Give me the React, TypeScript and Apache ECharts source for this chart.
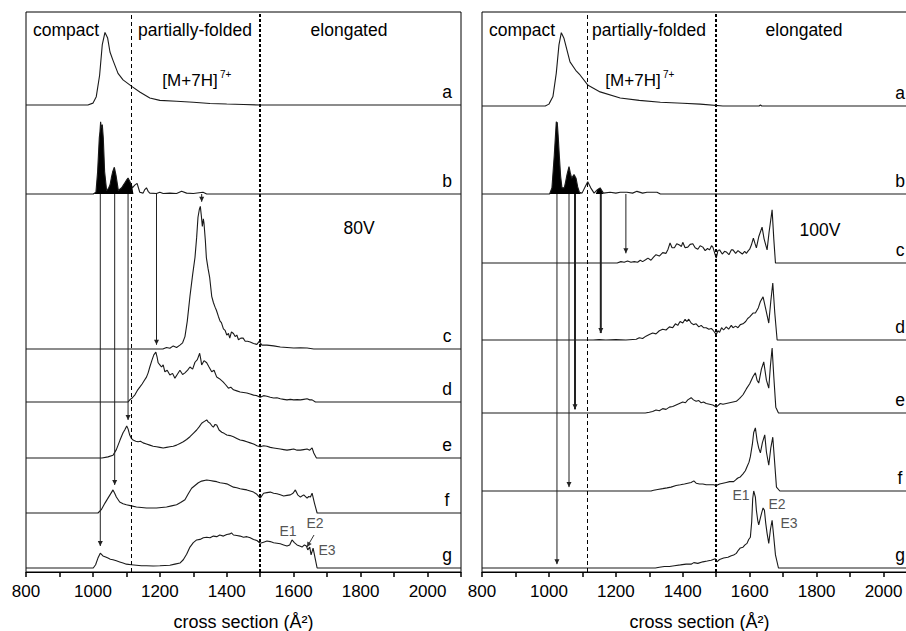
import React, { useEffect, useRef } from 'react';
import * as echarts from 'echarts';

// ---------------- DATA ----------------
const traceNames = ['a', 'b', 'c', 'd', 'e', 'f', 'g'];
const regionBounds = [1115, 1500];
const xMin = 800;
const xMax = 2100;
const xStep = 100;
const xLabelStep = 200;
const axisTitle = 'cross section (Å²)';
const regionNames = ['compact', 'partially-folded', 'elongated'];
const ionLabel = '[M+7H]';
const ionCharge = '7+';
const voltageLabels = ['80V', '100V'];
const peakNames = ['E1', 'E2', 'E3'];

// left panel (80V), intensity in % of each trace's row height
const leftA = [[800,0],[985,0],[1000,2],[1010,9],[1020,32],[1028,65],[1036,78],[1044,72],[1051,57],[1060,48],[1075,34],[1090,27],[1105,23],[1116,20],[1140,14],[1170,7.5],[1200,5],[1250,4],[1300,3],[1350,1.6],[1400,1],[1450,0.5],[1500,0],[2100,0]];
const leftB = [[800,0],[1001,0],[1009,2],[1014,25],[1019,63],[1021,70],[1023,81],[1025,74],[1028,78],[1031,63],[1035,25],[1041,4],[1046,6],[1051,10],[1055,18],[1059,25],[1064,30],[1069,21],[1076,4],[1086,7],[1091,10],[1096,13],[1101,16],[1105,18],[1112,13],[1118,7],[1125,10],[1132,12],[1140,2],[1150,1],[1155,5],[1160,7],[1165,3],[1170,1],[1190,0.5],[1200,2],[1210,0.5],[1230,1],[1250,0.5],[1265,3],[1280,1],[1300,0.5],[1329,2],[1340,0],[2100,0]];
const leftBFill = [[1001,0],[1009,2],[1014,25],[1019,63],[1021,70],[1023,81],[1025,74],[1028,78],[1031,63],[1035,25],[1041,4],[1046,6],[1051,10],[1055,18],[1059,25],[1064,30],[1069,21],[1076,4],[1086,7],[1091,10],[1096,13],[1101,16],[1105,18],[1112,13],[1118,7],[1121,0]];
const leftC = [[800,0],[1209,0],[1220,1],[1230,0.5],[1240,2],[1250,1],[1260,2.5],[1268,4],[1275,8],[1282,18],[1290,34],[1298,48],[1305,59],[1310,72],[1314,85],[1318,90],[1321,92],[1324,86],[1327,79],[1330,84],[1332,81],[1336,70],[1339,59],[1344,52],[1349,46],[1352,40],[1355,34],[1360,30],[1365,27],[1369,25],[1375,21],[1380,18],[1384,17],[1390,13],[1395,12],[1400,9],[1405,10],[1409,7],[1414,11],[1420,10],[1425,8],[1430,9],[1435,6],[1442,7],[1449,7],[1455,5],[1462,5],[1470,4.5],[1480,3.5],[1490,3],[1497,5],[1500,4],[1505,2.5],[1520,2.5],[1540,2],[1560,1.3],[1580,1],[1600,0.6],[1620,0.8],[1640,0.6],[1660,0],[2100,0]];
const leftD = [[800,0],[1105,0],[1110,4],[1118,8],[1126,14],[1134,23],[1140,28],[1147,34],[1153,40],[1160,47],[1165,55],[1170,66],[1176,78],[1182,89],[1188,94],[1192,84],[1195,74],[1200,70],[1205,66],[1210,70],[1215,57],[1222,60],[1230,51],[1238,54],[1245,45],[1252,52],[1260,60],[1268,52],[1275,55],[1283,60],[1290,66],[1298,62],[1305,75],[1312,80],[1319,92],[1322,82],[1325,70],[1332,78],[1340,74],[1347,66],[1355,57],[1362,60],[1370,47],[1378,44],[1389,38],[1396,33],[1405,26],[1412,28],[1420,23],[1430,21],[1440,19],[1450,18],[1460,17],[1470,15],[1480,13],[1490,12],[1500,9],[1510,12],[1520,11],[1530,9],[1540,7.5],[1550,8],[1560,6],[1570,5],[1580,4],[1590,5],[1600,4],[1610,4.5],[1620,4],[1630,5],[1640,6],[1648,4],[1655,4],[1665,0],[2100,0]];
const leftE = [[800,0],[1027,0],[1045,2],[1060,5],[1070,15],[1081,32],[1090,45],[1095,50],[1101,57],[1105,52],[1110,41],[1115,35],[1120,32],[1128,30],[1135,29],[1142,30],[1150,27],[1160,25],[1170,23],[1180,21],[1190,20],[1200,19],[1210,18],[1220,19],[1230,20],[1240,21],[1250,23],[1260,26],[1270,29],[1280,33],[1290,38],[1300,44],[1310,50],[1318,56],[1325,62],[1332,65],[1340,68],[1345,64],[1350,62],[1355,58],[1360,55],[1365,60],[1370,59],[1377,50],[1385,46],[1392,44],[1400,41],[1410,40],[1420,38],[1430,35],[1440,32],[1450,31],[1460,29],[1470,27],[1480,25],[1490,22],[1500,20],[1510,22],[1520,21],[1530,19],[1540,18],[1550,17],[1560,16],[1570,15],[1580,14],[1590,15],[1600,16],[1610,14],[1620,14],[1630,15],[1640,16],[1648,14],[1655,18],[1660,9],[1668,0],[2100,0]];
const leftF = [[800,0],[1015,0],[1025,6],[1036,18],[1045,27],[1051,33],[1056,38],[1060,42],[1065,36],[1070,29],[1080,20],[1090,17],[1100,15],[1115,13],[1130,11],[1145,10],[1160,9],[1175,9],[1190,9],[1205,10],[1220,11],[1235,13],[1250,15],[1262,19],[1275,24],[1285,35],[1295,45],[1305,50],[1315,55],[1325,58],[1340,60],[1350,59],[1360,58],[1370,57],[1380,55],[1390,54],[1400,53],[1410,50],[1420,47],[1430,46],[1440,44],[1450,43],[1460,42],[1470,40],[1480,38],[1490,34],[1500,27],[1510,36],[1520,37],[1530,38],[1540,36],[1550,35],[1560,33],[1570,31],[1580,32],[1590,33],[1598,36],[1605,42],[1612,33],[1620,29],[1630,33],[1640,27],[1645,30],[1650,29],[1655,36],[1662,18],[1670,0],[2100,0]];
const leftG = [[800,0],[1001,0],[1008,6],[1015,18],[1022,27],[1030,22],[1038,20],[1045,18],[1052,16],[1060,15],[1070,13],[1080,11],[1090,9],[1100,7],[1115,6],[1130,5],[1145,4],[1160,4],[1180,3.5],[1200,4],[1215,4.5],[1230,5],[1245,7],[1260,9],[1270,15],[1280,25],[1290,38],[1300,46],[1310,51],[1320,52],[1330,55],[1340,56],[1350,55],[1360,58],[1370,57],[1379,60],[1390,58],[1400,61],[1410,62],[1414,64],[1420,60],[1430,59],[1440,58],[1450,56],[1460,57],[1470,55],[1480,52],[1490,50],[1500,45],[1510,47],[1520,49],[1530,48],[1540,46],[1550,45],[1560,44],[1570,42],[1580,40],[1588,42],[1595,51],[1602,46],[1610,42],[1618,40],[1625,38],[1632,42],[1638,40],[1642,33],[1648,38],[1652,24],[1658,36],[1664,18],[1670,0],[2100,0]];

// right panel (100V)
const rightA = [[800,0],[989,0],[1000,2],[1012,10],[1022,35],[1030,65],[1037,78],[1045,72],[1063,47],[1080,38],[1093,33],[1117,22],[1153,15],[1213,8.5],[1270,6],[1333,4],[1400,3],[1452,2],[1520,0],[1628,0],[1632,1],[1636,0],[2100,0]];
const rightB = [[800,0],[1002,0],[1009,7],[1016,44],[1022,82],[1025,81],[1028,64],[1031,44],[1035,20],[1039,7],[1046,7],[1050,14],[1054,22],[1060,31],[1064,24],[1068,18],[1075,22],[1081,18],[1086,8],[1091,2],[1099,1],[1108,8],[1116,14],[1125,7],[1135,1],[1145,5],[1153,7],[1158,4],[1163,1],[1183,2],[1200,1],[1213,2],[1233,2],[1250,1],[1263,3],[1280,1],[1293,2],[1323,2],[1333,0],[2100,0]];
const rightBFill = [[1002,0],[1009,7],[1016,44],[1022,82],[1025,81],[1028,64],[1031,44],[1035,20],[1039,7],[1046,7],[1050,14],[1054,22],[1060,31],[1064,24],[1068,18],[1075,22],[1081,18],[1086,8],[1091,2],[1096,0],[1140,0],[1145,5],[1153,7],[1158,4],[1163,0]];
const rightC = [[800,0],[1204,0],[1215,2],[1225,1],[1235,3],[1245,1],[1255,2],[1265,1],[1273,4],[1280,2],[1290,5],[1296,7],[1305,4],[1312,8],[1320,12],[1330,10],[1340,15],[1350,14],[1356,20],[1362,29],[1368,22],[1375,22],[1382,28],[1390,26],[1396,24],[1400,30],[1407,22],[1415,23],[1422,27],[1430,28],[1437,22],[1445,20],[1452,25],[1460,23],[1467,18],[1474,21],[1480,19],[1486,25],[1490,23],[1495,15],[1500,7],[1505,18],[1510,19],[1518,13],[1525,17],[1530,16],[1538,12],[1545,19],[1550,19],[1558,14],[1565,18],[1570,16],[1578,13],[1585,17],[1590,14],[1596,18],[1600,20],[1605,26],[1611,36],[1616,28],[1620,22],[1627,38],[1632,45],[1637,52],[1643,35],[1652,19],[1658,45],[1667,77],[1672,35],[1677,0],[2100,0]];
const rightD = [[800,0],[1132,0],[1150,0.5],[1170,0],[1200,0.5],[1230,0],[1261,1],[1270,3],[1280,2],[1290,5],[1300,7],[1310,9],[1320,8],[1330,12],[1340,14],[1350,13],[1360,17],[1370,16],[1378,21],[1385,19],[1392,24],[1400,22],[1407,27],[1412,24],[1418,27],[1425,22],[1432,20],[1440,21],[1448,17],[1455,19],[1462,16],[1470,16],[1478,14],[1485,15],[1490,13],[1495,10],[1500,7],[1505,12],[1510,10],[1516,16],[1522,13],[1530,17],[1537,14],[1545,19],[1550,16],[1558,18],[1565,16],[1572,20],[1580,21],[1588,24],[1594,28],[1600,30],[1610,35],[1617,35],[1626,42],[1632,50],[1640,56],[1648,40],[1657,22],[1663,50],[1669,74],[1675,35],[1682,0],[2100,0]];
const rightE = [[800,0],[1288,0],[1300,1],[1310,2],[1320,4],[1330,3],[1340,6],[1350,5],[1360,8],[1370,9],[1380,11],[1390,13],[1400,15],[1408,14],[1415,18],[1425,21],[1432,18],[1440,16],[1448,17],[1455,14],[1462,15],[1470,13],[1480,12],[1490,11],[1500,8],[1505,10],[1512,13],[1520,12],[1530,13],[1540,14],[1550,15],[1560,16],[1570,20],[1580,25],[1590,33],[1600,40],[1610,50],[1617,55],[1622,45],[1627,41],[1635,60],[1642,70],[1650,45],[1657,34],[1662,65],[1667,89],[1672,50],[1678,8],[1686,0],[2100,0]];
const rightF = [[800,0],[1305,0],[1313,1],[1325,2],[1340,3],[1353,4],[1365,5],[1380,7],[1393,8],[1405,9],[1415,10],[1425,11],[1433,13],[1440,10],[1450,9],[1460,9],[1470,8],[1480,8],[1492,8],[1500,7],[1510,9],[1520,10],[1530,11],[1540,12],[1552,12],[1560,15],[1566,17],[1572,18],[1580,22],[1587,26],[1592,31],[1598,37],[1602,44],[1608,60],[1612,75],[1617,81],[1622,65],[1627,55],[1632,49],[1638,62],[1645,72],[1650,50],[1657,33],[1663,55],[1669,69],[1674,40],[1680,5],[1690,0],[2100,0]];
const rightG = [[800,0],[1318,0],[1330,1],[1345,2],[1360,2],[1375,3],[1393,4],[1410,5],[1425,5],[1433,7],[1445,6],[1460,8],[1473,9],[1485,10],[1497,12],[1502,8],[1510,11],[1522,13],[1535,14],[1545,16],[1552,17],[1560,19],[1566,23],[1572,26],[1580,27],[1586,30],[1592,32],[1597,37],[1602,40],[1606,60],[1609,90],[1612,100],[1617,92],[1620,75],[1624,62],[1627,56],[1632,65],[1636,72],[1640,78],[1644,75],[1648,58],[1652,45],[1657,32],[1662,50],[1667,62],[1672,40],[1677,17],[1686,0],[2100,0]];

// arrows: [cross section, target trace index, tip intensity in target trace]
const leftArrows = [[1325, 2, 95], [1190, 3, 108], [1105, 4, 68], [1065, 5, 51], [1022, 6, 40]];
const rightArrows = [[1230, 2, 14], [1155, 3, 9], [1078, 4, 5], [1060, 5, 5], [1024, 6, 5]];

// ---------------- LAYOUT ----------------
const FONT = '"Liberation Sans", Arial, Helvetica, sans-serif';
const AXIS_TOP = 12;
const AXIS_BOTTOM = 572;
const PANELS = [
  {
    left: 26, width: 435,
    rows: [[12, 105], [105, 194], [194, 349], [349, 402], [402, 458], [458, 513], [513, 568]],
    letterX: 447,
    traces: [leftA, leftB, leftC, leftD, leftE, leftF, leftG],
    bFill: leftBFill,
    arrows: leftArrows,
    arrowWidths: [1, 1, 1, 1, 1],
    regionX: [66, 195, 349], regionY: 30,
    ion: { x: 190, y: 80, supX: 220, supY: 74 },
    volt: { x: 359, y: 228 },
    peaks: [{ x: 288, y: 531 }, { x: 315, y: 523 }, { x: 327, y: 550 }],
    e2Arrow: [[314, 535], [307, 547]],
  },
  {
    left: 482, width: 435,
    rows: [[12, 106], [106, 194], [194, 263], [263, 340], [340, 413], [413, 491], [491, 568]],
    letterX: 900,
    traces: [rightA, rightB, rightC, rightD, rightE, rightF, rightG],
    bFill: rightBFill,
    arrows: rightArrows,
    arrowWidths: [1, 2, 2, 1, 1],
    regionX: [522, 649, 804], regionY: 30,
    ion: { x: 633, y: 80, supX: 663, supY: 74 },
    volt: { x: 820, y: 230 },
    peaks: [{ x: 741, y: 495 }, { x: 777, y: 504 }, { x: 789, y: 523 }],
    e2Arrow: null,
  },
];

function buildOption() {
  const grid: any[] = [];
  const xAxis: any[] = [];
  const yAxis: any[] = [];
  const series: any[] = [];
  PANELS.forEach((p, pi) => {
    const base = pi * 8;
    grid.push({
      left: p.left, width: p.width, top: AXIS_TOP, height: AXIS_BOTTOM - AXIS_TOP,
      show: true, borderColor: '#000', borderWidth: 1, backgroundColor: 'transparent',
      containLabel: false, outerBoundsMode: 'none',
    });
    xAxis.push({
      gridIndex: base, type: 'value', min: xMin, max: xMax, interval: xStep,
      axisLine: { show: true, lineStyle: { color: '#000', width: 1 } },
      axisTick: { show: true, inside: false, length: 5, lineStyle: { color: '#000', width: 1.5 } },
      axisLabel: {
        show: true, margin: 11, color: '#000', fontSize: 17, fontFamily: FONT,
        formatter: (v: number) => (v % xLabelStep === 0 ? String(v) : ''),
        showMinLabel: true, showMaxLabel: true, hideOverlap: false,
      },
      splitLine: { show: false },
      name: axisTitle, nameLocation: 'middle', nameGap: 41,
      nameTextStyle: { color: '#000', fontSize: 18, fontFamily: FONT },
    });
    yAxis.push({ gridIndex: base, type: 'value', min: 0, max: 1, show: false });
    series.push({
      type: 'line', xAxisIndex: base, yAxisIndex: base, data: [[xMin, 0]], symbol: 'none',
      lineStyle: { width: 0 }, silent: true,
      markLine: {
        silent: true, symbol: ['none', 'none'], label: { show: false },
        data: regionBounds.map((v, i) => ({
          xAxis: v,
          lineStyle: i === 0
            ? { color: '#000', width: 1, type: [4, 3] }
            : { color: '#000', width: 2, type: [3, 2] },
        })),
      },
    });
    p.rows.forEach((r, ri) => {
      const gi = base + 1 + ri;
      grid.push({ left: p.left, width: p.width, top: r[0], height: r[1] - r[0], show: false, containLabel: false, outerBoundsMode: 'none' });
      xAxis.push({ gridIndex: gi, type: 'value', min: xMin, max: xMax, show: false });
      yAxis.push({ gridIndex: gi, type: 'value', min: 0, max: 100, show: false });
      if (ri === 1) {
        series.push({
          type: 'line', xAxisIndex: gi, yAxisIndex: gi, data: p.bFill, symbol: 'none', silent: true,
          clip: false, lineStyle: { width: 0 }, areaStyle: { color: '#000', opacity: 1 }, z: 2,
        });
      }
      series.push({
        type: 'line', name: traceNames[ri], xAxisIndex: gi, yAxisIndex: gi, data: p.traces[ri],
        symbol: 'none', silent: true, clip: false,
        lineStyle: { color: '#1a1a1a', width: 1.1 }, z: 3,
      });
    });
  });
  return {
    animation: false,
    backgroundColor: '#fff',
    textStyle: { fontFamily: FONT },
    grid, xAxis, yAxis, series,
  };
}

function arrowHead(x1: number, y1: number, x2: number, y2: number, size: number, color: string) {
  const dx = x2 - x1, dy = y2 - y1;
  const len = Math.sqrt(dx * dx + dy * dy) || 1;
  const ux = dx / len, uy = dy / len;
  const bx = x2 - ux * size, by = y2 - uy * size;
  const px = -uy * size * 0.5, py = ux * size * 0.5;
  return {
    type: 'polygon', silent: true, z: 10,
    shape: { points: [[x2, y2], [bx + px, by + py], [bx - px, by - py]] },
    style: { fill: color },
  };
}

function buildGraphics(chart: any) {
  const els: any[] = [];
  const txt = (text: string, x: number, y: number, size: number, color = '#000', align = 'center') => ({
    type: 'text', x, y, silent: true, z: 20,
    style: { text, fill: color, font: `${size}px ${FONT}`, align, verticalAlign: 'middle' },
  });
  PANELS.forEach((p, pi) => {
    const base = pi * 8;
    regionNames.forEach((n, i) => els.push(txt(n, p.regionX[i], p.regionY, 17.5)));
    els.push(txt(ionLabel, p.ion.x, p.ion.y, 17));
    els.push(txt(ionCharge, p.ion.supX, p.ion.supY, 10, '#000', 'left'));
    els.push(txt(voltageLabels[pi], p.volt.x, p.volt.y, 17.5));
    p.rows.forEach((r, ri) => els.push(txt(traceNames[ri], p.letterX, r[1] - 13, 17.5)));
    peakNames.forEach((n, i) => els.push(txt(n, p.peaks[i].x, p.peaks[i].y, 14, '#555')));
    if (p.e2Arrow) {
      const [[x1, y1], [x2, y2]] = p.e2Arrow;
      els.push({ type: 'line', silent: true, z: 10, shape: { x1, y1, x2, y2 }, style: { stroke: '#333', lineWidth: 1 } });
      els.push(arrowHead(x1, y1, x2, y2, 5, '#333'));
    }
    p.arrows.forEach(([x, target, tip], ai) => {
      const bi = base + 2;
      const ti = base + 1 + target;
      const start = chart.convertToPixel({ xAxisIndex: bi, yAxisIndex: bi }, [x, 0]);
      const end = chart.convertToPixel({ xAxisIndex: ti, yAxisIndex: ti }, [x, tip]);
      const w = p.arrowWidths[ai];
      els.push({
        type: 'line', silent: true, z: 10,
        shape: { x1: start[0], y1: start[1], x2: end[0], y2: end[1] },
        style: { stroke: '#222', lineWidth: w },
      });
      els.push(arrowHead(start[0], start[1], end[0], end[1], 5, '#222'));
    });
  });
  return els;
}

export default function App() {
  const ref = useRef<HTMLDivElement>(null);
  useEffect(() => {
    if (!ref.current) return;
    const chart = echarts.init(ref.current, null, { renderer: 'svg', width: 906, height: 631 });
    chart.setOption(buildOption() as any);
    chart.setOption({ graphic: buildGraphics(chart) } as any);
    return () => chart.dispose();
  }, []);
  return (
    <div
      ref={ref}
      style={{ position: 'fixed', left: 0, top: 0, width: 906, height: 631, background: '#fff' }}
    />
  );
}
